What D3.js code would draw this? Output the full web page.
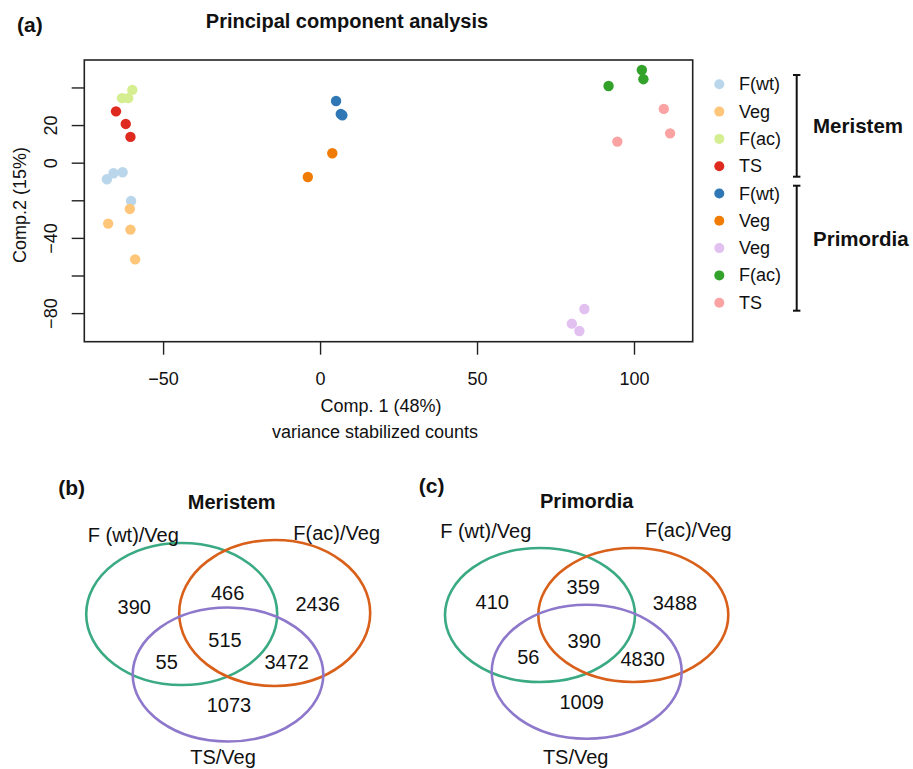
<!DOCTYPE html>
<html><head><meta charset="utf-8">
<script src="https://cdn.jsdelivr.net/npm/d3@7/dist/d3.min.js"></script>
<style>
html,body{margin:0;padding:0;background:#fff;}
svg text{font-family:"Liberation Sans",Arial,Helvetica,sans-serif;fill:#111;}
</style></head>
<body>
<svg id="c" width="913" height="769"></svg>
<script>
// ---------- PCA data ----------
const groupLabels = ["F(wt)","Veg","F(ac)","TS","F(wt)","Veg","Veg","F(ac)","TS"];
const groupColors = ["#B9D6EA","#FFC579","#D5EE91","#DE2A1F","#2F78B5","#F07B05","#E2C1F0","#32A22A","#FBA3A3"];
const pc1 = [
  [-67.9,-65.8,-62.9,-60.2],
  [-67.5,-60.6,-60.4,-58.9],
  [-63.1,-61.1,-59.8],
  [-65.0,-61.9,-60.4],
  [5.1,6.6,7.1],
  [3.9,-3.9],
  [84.2,80.2,82.6],
  [102.5,103.0,91.9],
  [109.5,111.5,94.7]
];
const pc2 = [
  [-8.8,-5.6,-5.1,-20.4],
  [-32.4,-24.6,-35.6,-51.4],
  [34.3,34.3,38.7],
  [27.3,20.6,13.7],
  [32.8,25.9,25.2],
  [5.0,-7.6],
  [-77.8,-85.6,-89.5],
  [49.3,44.4,40.8],
  [28.6,15.6,11.2]
];
const xTicks = [-50,0,50,100];
const yTicks = [-80,-60,-40,-20,0,20,40];
const yTickLabels = {"-80":"\u221280","-40":"\u221240","0":"0","20":"20"};
const legendGroups = ["Meristem","Primordia"];

// ---------- Venn data ----------
const vennSetNames = ["F (wt)/Veg","F(ac)/Veg","TS/Veg"];
const vennColors = ["#3AAA82","#D9601A","#8D78CB"];
// regions: A only, B only, C only, AB, AC, BC, ABC
const meristemCounts = [390,2436,1073,466,55,3472,515];
const primordiaCounts = [410,3488,1009,359,56,4830,390];

const svg = d3.select("#c");

// ---------- Panel (a) ----------
const x = d3.scaleLinear().domain([-75.1,118.7]).range([84.3,692.7]);
const y = d3.scaleLinear().domain([-95.2,54.6]).range([341.7,60]);

svg.append("text").attr("x",17).attr("y",32).attr("font-size",21).attr("font-weight","bold").text("(a)");
svg.append("text").attr("x",347).attr("y",28).attr("text-anchor","middle")
  .attr("font-size",20).attr("font-weight","bold").text("Principal component analysis");

const fmt = d => String(d).replace("-","\u2212");
const gx = svg.append("g").attr("transform","translate(0,341.7)")
  .call(d3.axisBottom(x).tickValues(xTicks).tickSize(13).tickPadding(18).tickFormat(fmt));
gx.select(".domain").remove();
gx.selectAll("line").attr("stroke","#222").attr("stroke-width",1.4);
gx.selectAll("text").attr("font-size",18).attr("fill","#111").style("font-family","Liberation Sans, Arial, sans-serif");

const gy = svg.append("g").attr("transform","translate(84.3,0)")
  .call(d3.axisLeft(y).tickValues(yTicks).tickSize(12.6).tickFormat(d => yTickLabels[String(d)] || ""));
gy.select(".domain").remove();
gy.selectAll("line").attr("stroke","#222").attr("stroke-width",1.4);
gy.selectAll(".tick text").attr("font-size",18).attr("fill","#111")
  .style("font-family","Liberation Sans, Arial, sans-serif")
  .attr("x",null).attr("dy",null)
  .attr("text-anchor","middle").attr("dominant-baseline","central")
  .attr("transform","translate(-33,0) rotate(-90)");

svg.append("rect").attr("x",84.3).attr("y",60).attr("width",692.7-84.3).attr("height",341.7-60)
  .attr("fill","none").attr("stroke","#222").attr("stroke-width",1.6);

svg.append("text").attr("x",381).attr("y",412).attr("text-anchor","middle").attr("font-size",18).text("Comp. 1 (48%)");
svg.append("text").attr("x",375).attr("y",438).attr("text-anchor","middle").attr("font-size",18).text("variance stabilized counts");
svg.append("text").attr("transform","translate(26,205) rotate(-90)").attr("text-anchor","middle").attr("font-size",18).text("Comp.2 (15%)");

const pts = [];
pc1.forEach((xs,g) => xs.forEach((v,i) => pts.push({g, x:v, y:pc2[g][i]})));
svg.append("g").selectAll("circle").data(pts).join("circle")
  .attr("cx",d=>x(d.x)).attr("cy",d=>y(d.y)).attr("r",5.2).attr("fill",d=>groupColors[d.g]);

// legend
const leg = svg.append("g");
const rowY = i => 84.3 + i*27.3;
groupLabels.forEach((lab,i) => {
  leg.append("circle").attr("cx",719.3).attr("cy",rowY(i)).attr("r",5).attr("fill",groupColors[i]);
  leg.append("text").attr("x",739).attr("y",rowY(i)).attr("dominant-baseline","central").attr("font-size",18).text(lab);
});
function bracket(y0,y1,label,ly){
  leg.append("line").attr("x1",796.7).attr("x2",796.7).attr("y1",y0).attr("y2",y1).attr("stroke","#111").attr("stroke-width",2);
  [y0,y1].forEach(v=>leg.append("line").attr("x1",793).attr("x2",800.4).attr("y1",v).attr("y2",v).attr("stroke","#111").attr("stroke-width",2));
  leg.append("text").attr("x",813).attr("y",ly).attr("dominant-baseline","central").attr("font-size",20.5).attr("font-weight","bold").text(label);
}
bracket(75,176.7,legendGroups[0],125.5);
bracket(185.7,310.7,legendGroups[1],238.5);

// ---------- Venn panels ----------
function venn(opt, counts){
  const g = svg.append("g");
  g.append("text").attr("x",opt.letter[0]).attr("y",opt.letter[1]).attr("text-anchor","middle").attr("dominant-baseline","central")
    .attr("font-size",21).attr("font-weight","bold").text(opt.letterText);
  g.append("text").attr("x",opt.title[0]).attr("y",opt.title[1]).attr("text-anchor","middle").attr("dominant-baseline","central")
    .attr("font-size",20).attr("font-weight","bold").text(opt.titleText);
  g.selectAll("ellipse").data(opt.ellipses).join("ellipse")
    .attr("cx",d=>d[0]).attr("cy",d=>d[1]).attr("rx",d=>d[2]).attr("ry",d=>d[3])
    .attr("fill","none").attr("stroke",(d,i)=>vennColors[i]).attr("stroke-width",2.6);
  g.selectAll("text.set").data(vennSetNames).join("text").attr("class","set")
    .attr("x",(d,i)=>opt.setPos[i][0]).attr("y",(d,i)=>opt.setPos[i][1])
    .attr("text-anchor","middle").attr("dominant-baseline","central").attr("font-size",20).text(d=>d);
  g.selectAll("text.num").data(counts).join("text").attr("class","num")
    .attr("x",(d,i)=>opt.numPos[i][0]).attr("y",(d,i)=>opt.numPos[i][1])
    .attr("text-anchor","middle").attr("dominant-baseline","central").attr("font-size",20).text(d=>d);
}
venn({
  letter:[71.7,487], letterText:"(b)", title:[231.7,501.5], titleText:"Meristem",
  ellipses:[[181.7,614,95.5,71],[274.7,613,95.5,73],[228,674.5,95.3,67]],
  setPos:[[133.3,535],[336.7,533.3],[223,757]],
  numPos:[[134.3,606.7],[317.7,604.3],[229,705],[227.7,593.3],[166.7,662.3],[286.7,662.3],[225,640]]
}, meristemCounts);
venn({
  letter:[431.7,485.5], letterText:"(c)", title:[586.7,501], titleText:"Primordia",
  ellipses:[[540,615,95,67],[633.3,615,95,67],[586.7,671.7,95,67]],
  setPos:[[485.7,531],[688.3,530],[575.7,757]],
  numPos:[[492.3,601.7],[675,602.7],[581.7,701.7],[583.3,586.7],[528.3,657.3],[642.7,659],[584.3,641]]
}, primordiaCounts);
</script>
</body></html>
